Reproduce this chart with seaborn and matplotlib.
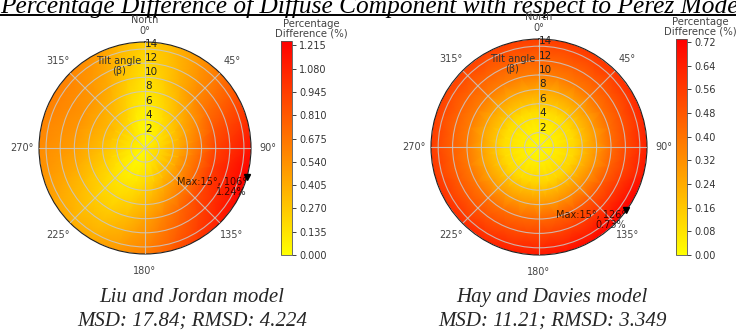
import numpy as np
import matplotlib
matplotlib.use("Agg")
import matplotlib.pyplot as plt
import seaborn as sns
from matplotlib.lines import Line2D

# ---------------- data ----------------
azimuth_deg = [0, 15, 30, 45, 60, 75, 90, 105, 120, 135, 150, 165,
               180, 195, 210, 225, 240, 255, 270, 285, 300, 315, 330, 345]
tilt_deg = [0, 5, 10, 15]

# Liu and Jordan model: percentage difference (%) per tilt row
lj_t0 = [0.0] * 24
lj_t5 = [0.06, 0.10, 0.17, 0.25, 0.32, 0.38, 0.43, 0.46, 0.45, 0.41, 0.35, 0.27,
         0.19, 0.13, 0.10, 0.11, 0.16, 0.22, 0.27, 0.30, 0.31, 0.28, 0.21, 0.11]
lj_t10 = [0.14, 0.25, 0.40, 0.56, 0.70, 0.82, 0.91, 0.96, 0.94, 0.86, 0.74, 0.60,
          0.45, 0.32, 0.24, 0.25, 0.32, 0.41, 0.47, 0.51, 0.52, 0.49, 0.40, 0.26]
lj_t15 = [0.24, 0.34, 0.50, 0.66, 0.84, 1.01, 1.15, 1.24, 1.20, 1.10, 0.96, 0.80,
          0.62, 0.50, 0.42, 0.40, 0.45, 0.52, 0.57, 0.60, 0.62, 0.60, 0.52, 0.37]

# Hay and Davies model
hd_t0 = [0.0] * 24
hd_t5 = [0.10, 0.10, 0.10, 0.11, 0.11, 0.11, 0.12, 0.12, 0.13, 0.13, 0.13, 0.12,
         0.12, 0.12, 0.11, 0.11, 0.11, 0.11, 0.10, 0.10, 0.10, 0.10, 0.10, 0.10]
hd_t10 = [0.37, 0.37, 0.38, 0.39, 0.40, 0.41, 0.42, 0.44, 0.47, 0.47, 0.46, 0.44,
          0.43, 0.42, 0.41, 0.40, 0.39, 0.38, 0.38, 0.37, 0.37, 0.37, 0.37, 0.37]
hd_t15 = [0.55, 0.56, 0.57, 0.58, 0.60, 0.62, 0.64, 0.67, 0.73, 0.72, 0.70, 0.68,
          0.66, 0.64, 0.62, 0.60, 0.59, 0.57, 0.56, 0.55, 0.54, 0.54, 0.54, 0.55]

lj_max_label = ("Max:15°, 106°", "1.24%")
hd_max_label = ("Max:15°, 126°", "0.73%")
lj_max_az = 106
hd_max_az = 126

lj_cbar_ticks = [0.000, 0.135, 0.270, 0.405, 0.540, 0.675, 0.810, 0.945, 1.080, 1.215]
hd_cbar_ticks = [0.00, 0.08, 0.16, 0.24, 0.32, 0.40, 0.48, 0.56, 0.64, 0.72]

theta_tick_deg = [0, 45, 90, 135, 180, 225, 270, 315]
theta_tick_labels = ["North\n0°", "45°", "90°", "135°", "180°", "225°", "270°", "315°"]
r_ticks = [2, 4, 6, 8, 10, 12, 14]

title_text = "Percentage Difference of Diffuse Component with respect to Perez Model"
cbar_title = "Percentage\nDifference (%)"
captions = [("Liu and Jordan model", "MSD: 17.84; RMSD: 4.224"),
            ("Hay and Davies model", "MSD: 11.21; RMSD: 3.349")]

# ---------------- style ----------------
sns.set_style("white")
plt.rcParams["font.family"] = ["DejaVu Sans"]
cmap = sns.color_palette("autumn_r", as_cmap=True)

W, H = 736, 334
fig = plt.figure(figsize=(W / 100, H / 100), dpi=100)


def px(x0, y0, w, h):
    """pixel box (top-left origin) -> figure fraction rect"""
    return [x0 / W, 1 - (y0 + h) / H, w / W, h / H]


def polar_panel(rect, cbar_rect, cbar_title_xy, rows, max_az, max_label, ticks, fmt):
    ax = fig.add_axes(rect, projection="polar")
    cax = fig.add_axes(cbar_rect)
    grid = np.array(rows, dtype=float)
    grid = np.column_stack([grid, grid[:, :1]])          # close the circle
    th = np.deg2rad(np.append(azimuth_deg, 360))
    TH, R = np.meshgrid(th, tilt_deg)
    vmax = grid.max()
    mesh = ax.pcolormesh(TH, R, grid, cmap=cmap, vmin=0, vmax=vmax,
                         shading="gouraud", rasterized=True, zorder=0)
    ax.set_axisbelow(False)
    ax.set_theta_zero_location("N")
    ax.set_theta_direction(-1)
    ax.set_ylim(0, 15)
    ax.set_thetagrids(theta_tick_deg, theta_tick_labels, fontsize=7, color="#444444")
    ax.set_rgrids(r_ticks, [str(r) for r in r_ticks], angle=0, fontsize=7.5,
                  color="#222222")
    ax.tick_params(axis="x", pad=1.5)
    ax.grid(True, color="#c8c8c8", linewidth=0.8, alpha=0.85)
    ax.spines["polar"].set_color("#222222")
    ax.spines["polar"].set_linewidth(0.8)
    ax.text(0.377, 0.885, "Tilt angle\n(β)", transform=ax.transAxes, ha="center",
            va="center", fontsize=7, color="#333333", linespacing=1.0, zorder=5)
    ax.plot(np.deg2rad(max_az), 15, marker="v", color="black", ms=4, clip_on=False,
            zorder=6)
    ax.text(np.deg2rad(max_az), 15, max_label[0] + "\n" + max_label[1],
            ha="right", va="top", fontsize=7, color="black", alpha=0.75,
            linespacing=1.0, multialignment="right", zorder=6)
    cb = fig.colorbar(mesh, cax=cax, ticks=ticks, format=fmt)
    cb.outline.set_linewidth(0.6)
    cb.outline.set_edgecolor("#555555")
    cax.tick_params(labelsize=7, colors="#222222", length=3, width=0.6, pad=2)
    for lab in cax.get_yticklabels():
        lab.set_color("#333333")
    fig.text(cbar_title_xy[0] / W, 1 - cbar_title_xy[1] / H, cbar_title,
             fontsize=7.3, color="#444444", ha="center", va="center",
             linespacing=1.0, multialignment="center", zorder=4)
    return ax


polar_panel(px(39, 42, 212, 212), px(281, 41, 11, 214), (311, 29),
            [lj_t0, lj_t5, lj_t10, lj_t15], lj_max_az, lj_max_label,
            lj_cbar_ticks, "%.3f")
polar_panel(px(431, 39, 216, 216), px(676, 39, 11, 216), (700, 27),
            [hd_t0, hd_t5, hd_t10, hd_t15], hd_max_az, hd_max_label,
            hd_cbar_ticks, "%.2f")

# ---------------- title (cropped at the top edge, underlined) ----------------
serif = ["Liberation Serif", "DejaVu Serif"]
t = fig.text(373 / W, 1 - 12.5 / H, title_text, fontsize=18.3, family=serif,
             style="italic", ha="center", va="baseline", color="black", zorder=-2)
fig.canvas.draw()
bb = t.get_window_extent()
uy = 1 - 14.5 / H
fig.add_artist(Line2D([bb.x0 / W, bb.x1 / W], [uy, uy], color="black",
                      linewidth=1.4, transform=fig.transFigure, zorder=-2))

# ---------------- captions ----------------
for cx, (l1, l2) in zip([192, 552], captions):
    fig.text(cx / W, 1 - 302 / H, l1, fontsize=15, family=serif, style="italic",
             ha="center", va="baseline")
    fig.text(cx / W, 1 - 326 / H, l2, fontsize=15, family=serif, style="italic",
             ha="center", va="baseline")

fig.savefig("out.png", dpi=100)
